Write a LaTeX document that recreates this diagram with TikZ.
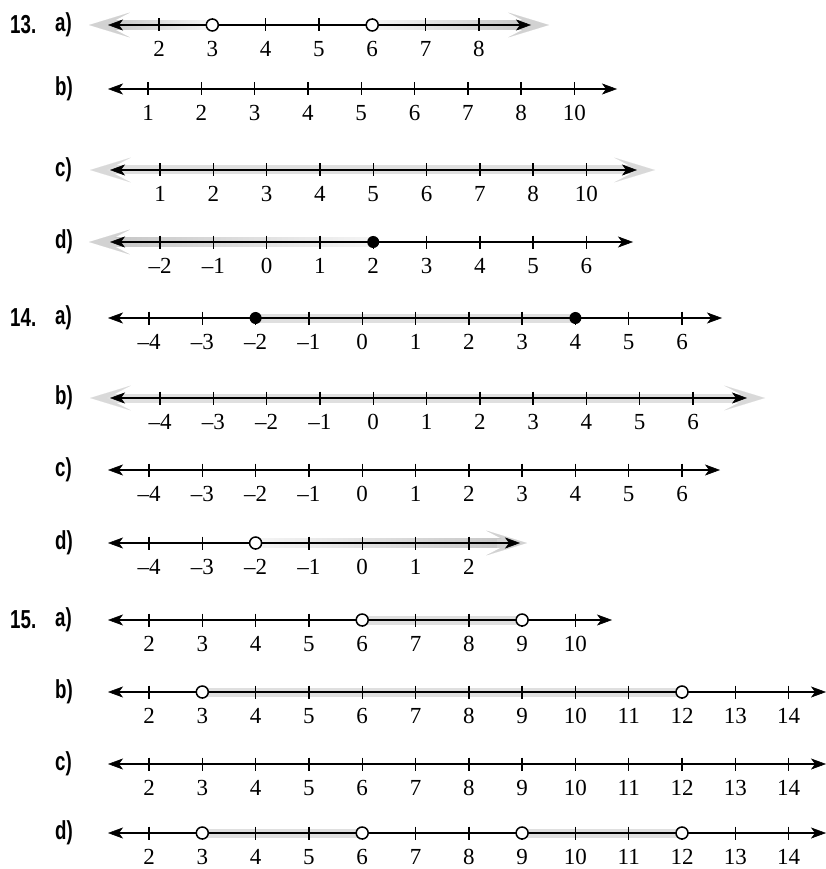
\documentclass[tikz,border=0pt]{standalone}
\usepackage{fontspec}
\setmainfont{Liberation Serif}
\newfontfamily\exfont[FakeStretch=0.72]{Liberation Sans}
\usetikzlibrary{arrows.meta,calc}
\pgfdeclarelayer{back}
\pgfsetlayers{back,main}

\newcommand{\nline}[6]{%
  \coordinate (#1L) at (#3,#2);
  \coordinate (#1R) at (#4,#2);
  \draw[axis] (#1L) -- (#1R);
  \foreach \lab [count=\i from 0] in {#6}{
    \coordinate (#1t\i) at ({#5+53.3*\i},#2);
    \draw[tickmark] ($(#1t\i)+(0,-6.5)$) -- ($(#1t\i)+(0,6.5)$);
    \node[num] (#1n\i) at ($(#1t\i)+(0,24)$) {\lab};
  }}

\newcommand{\band}[2]{%
  \begin{pgfonlayer}{back}
    \fill[bandfill] ($(#1)+(0,-4.5)$) rectangle ($(#2)+(0,4.5)$);
  \end{pgfonlayer}}

\newcommand{\ray}[3]{%
  \begin{pgfonlayer}{back}
    \shade[#3] ($(#1)+(0,-4.5)$) rectangle ($(#2)!20pt!(#1)+(0,4.5)$);
    \draw[rayhead] ($(#2)!30pt!(#1)$) -- (#2);
  \end{pgfonlayer}}

\begin{document}
\begin{tikzpicture}
        [x=1pt,y=-1pt,
        axis/.style={line width=2pt,
          {Stealth[length=15pt,width=11pt,inset=4pt,line width=0.5pt]}-{Stealth[length=15pt,width=11pt,inset=4pt,line width=0.5pt]}},
        tickmark/.style={line width=1.4pt},
        num/.style={font=\fontsize{23}{25}\selectfont,inner sep=0pt},
        exlabel/.style={font=\exfont\bfseries\fontsize{26}{28}\selectfont,inner sep=0pt,anchor=west},
        hollow/.style={circle,draw,fill=white,line width=1.5pt,minimum size=12pt,inner sep=0pt},
        dotnode/.style={circle,fill=black,minimum size=12pt,inner sep=0pt},
        bandfill/.style={fill=gray!25},
        rayhead/.style={draw=gray!35,line width=9pt,
          -{Stealth[length=41pt,width=25pt,inset=24pt,line width=0.1pt,fill=gray!35]}},
        fullband/.style={draw=gray!25,line width=9pt,
          {Stealth[length=41pt,width=25pt,inset=24pt,line width=0.1pt,fill=gray!30]}-{Stealth[length=41pt,width=25pt,inset=24pt,line width=0.1pt,fill=gray!30]}},
        darkleft/.style={left color=gray!45,right color=gray!8},
        darkright/.style={left color=gray!8,right color=gray!45}]
        \useasboundingbox (0,0) rectangle (826,869);
        \node[exlabel] (q13) at (10,25) {13.};
        \node[exlabel] (q13a) at (55,25) {a)};
        \node[exlabel] (q13b) at (55,89) {b)};
        \node[exlabel] (q13c) at (55,170) {c)};
        \node[exlabel] (q13d) at (55,242) {d)};
        \node[exlabel] (q14) at (10,318) {14.};
        \node[exlabel] (q14a) at (55,318) {a)};
        \node[exlabel] (q14b) at (55,398) {b)};
        \node[exlabel] (q14c) at (55,470) {c)};
        \node[exlabel] (q14d) at (55,543) {d)};
        \node[exlabel] (q15) at (10,620) {15.};
        \node[exlabel] (q15a) at (55,620) {a)};
        \node[exlabel] (q15b) at (55,692) {b)};
        \node[exlabel] (q15c) at (55,764) {c)};
        \node[exlabel] (q15d) at (55,833) {d)};
        \nline{r13a}{25}{108}{531}{159}{2,3,4,5,6,7,8}
        \coordinate (r13aA) at (89,25);
        \coordinate (r13aB) at (549,25);
        \ray{r13at1}{r13aA}{darkleft}
        \ray{r13at4}{r13aB}{darkright}
        \node[hollow] (r13ao1) at (r13at1) {};
        \node[hollow] (r13ao2) at (r13at4) {};
        \nline{r13b}{89}{108}{617}{148}{1,2,3,4,5,6,7,8,10}
        \nline{r13c}{170}{110}{637}{160}{1,2,3,4,5,6,7,8,10}
        \coordinate (r13cA) at (90,170);
        \coordinate (r13cB) at (655,170);
        \begin{pgfonlayer}{back}
          \draw[fullband] (r13cA) -- (r13cB);
        \end{pgfonlayer}
        \nline{r13d}{242}{110}{633}{160}{--2,--1,0,1,2,3,4,5,6}
        \coordinate (r13dA) at (89,242);
        \ray{r13dt4}{r13dA}{darkleft}
        \node[dotnode] (r13do1) at (r13dt4) {};
        \nline{r14a}{318}{108}{722}{149}{--4,--3,--2,--1,0,1,2,3,4,5,6}
        \band{r14at2}{r14at8}
        \node[dotnode] (r14ao1) at (r14at2) {};
        \node[dotnode] (r14ao2) at (r14at8) {};
        \nline{r14b}{398}{110}{747}{160}{--4,--3,--2,--1,0,1,2,3,4,5,6}
        \coordinate (r14bA) at (90,398);
        \coordinate (r14bB) at (765,398);
        \begin{pgfonlayer}{back}
          \draw[fullband] (r14bA) -- (r14bB);
        \end{pgfonlayer}
        \nline{r14c}{470}{108}{720}{149}{--4,--3,--2,--1,0,1,2,3,4,5,6}
        \nline{r14d}{543}{108}{520}{149}{--4,--3,--2,--1,0,1,2}
        \coordinate (r14dB) at (527,543);
        \ray{r14dt2}{r14dB}{darkright}
        \node[hollow] (r14do1) at (r14dt2) {};
        \nline{r15a}{620}{108}{612}{149}{2,3,4,5,6,7,8,9,10}
        \band{r15at4}{r15at7}
        \node[hollow] (r15ao1) at (r15at4) {};
        \node[hollow] (r15ao2) at (r15at7) {};
        \nline{r15b}{692}{108}{826}{149}{2,3,4,5,6,7,8,9,10,11,12,13,14}
        \band{r15bt1}{r15bt10}
        \node[hollow] (r15bo1) at (r15bt1) {};
        \node[hollow] (r15bo2) at (r15bt10) {};
        \nline{r15c}{764}{108}{826}{149}{2,3,4,5,6,7,8,9,10,11,12,13,14}
        \nline{r15d}{833}{108}{826}{149}{2,3,4,5,6,7,8,9,10,11,12,13,14}
        \band{r15dt1}{r15dt4}
        \band{r15dt7}{r15dt10}
        \node[hollow] (r15do1) at (r15dt1) {};
        \node[hollow] (r15do2) at (r15dt4) {};
        \node[hollow] (r15do3) at (r15dt7) {};
        \node[hollow] (r15do4) at (r15dt10) {};
      \end{tikzpicture}
\end{document}
